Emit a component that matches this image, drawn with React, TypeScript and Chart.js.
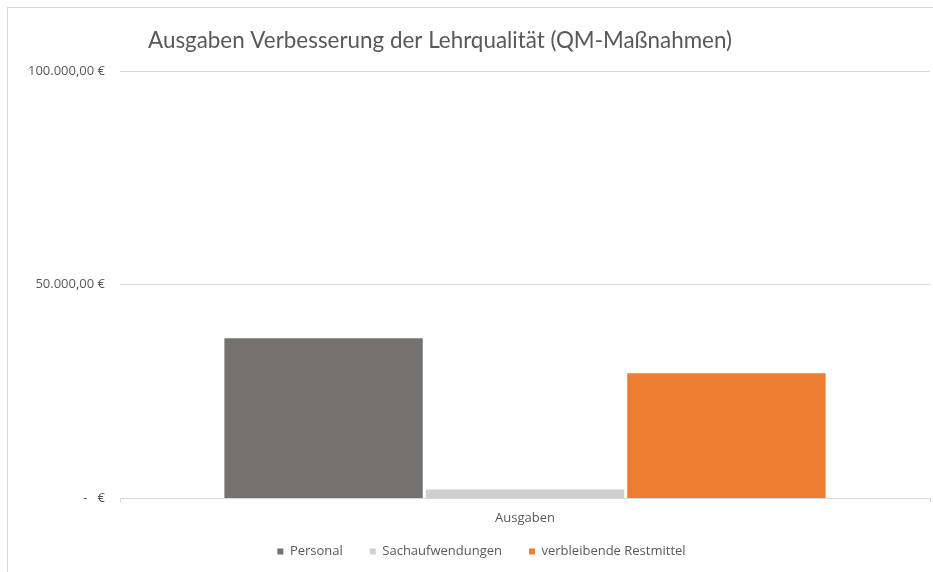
import React, { useEffect, useRef } from "react";
import { Chart, registerables } from "chart.js";

Chart.register(...registerables);

const categories = ["Ausgaben"];
const seriesNames = ["Personal", "Sachaufwendungen", "verbleibende Restmittel"];
const personal = [37500];
const sachaufwendungen = [2100];
const restmittel = [29300];
const seriesColors = ["#767171", "#d0cece", "#ed7d31"];
const titleText = "Ausgaben Verbesserung der Lehrqualität (QM-Maßnahmen)";
const yTicks = [0, 50000, 100000];

const fmt = (v: number) =>
  v === 0
    ? "-   €"
    : v.toLocaleString("de-DE", { minimumFractionDigits: 2, maximumFractionDigits: 2 }) + " €";

const LEGEND_SHIFT = 16;
const LEGEND_X_SHIFT = 9;

export default function App() {
  const ref = useRef<HTMLCanvasElement>(null);
  useEffect(() => {
    if (!ref.current) return;
    const titlePlugin = {
      id: "customTitle",
      afterDraw(chart: any) {
        const ctx = chart.ctx;
        ctx.save();
        ctx.font = "22.4px Lato";
        ctx.fillStyle = "#595959";
        ctx.textAlign = "center";
        ctx.textBaseline = "middle";
        ctx.fillText(titleText, 440, 41);
        ctx.restore();
      },
    };
    const legendPatch = {
      id: "legendPatch",
      beforeLayout(chart: any) {
        const lg = chart.legend;
        if (lg && !lg._patched) {
          const orig = lg.fit.bind(lg);
          lg.fit = function () {
            orig();
            this.height -= LEGEND_SHIFT;
          };
          lg._patched = true;
        }
      },
      afterLayout(chart: any) {
        const lg = chart.legend;
        if (lg) {
          lg.top -= LEGEND_SHIFT;
          lg.height += LEGEND_SHIFT;
          lg.left += LEGEND_X_SHIFT;
          lg.right += LEGEND_X_SHIFT;
        }
      },
    };
    const values = [personal, sachaufwendungen, restmittel];
    const chart = new Chart(ref.current, {
      type: "bar",
      data: {
        labels: categories,
        datasets: seriesNames.map((n, i) => ({
          label: n,
          data: values[i],
          backgroundColor: seriesColors[i],
          borderWidth: 0,
          categoryPercentage: 0.746,
          barPercentage: 0.985,
        })),
      },
      options: {
        animation: false,
        responsive: false,
        layout: { padding: { left: 15, right: 3, top: 71, bottom: 4 } },
        plugins: {
          title: { display: false },
          tooltip: { enabled: false },
          legend: {
            position: "bottom",
            labels: {
              boxWidth: 6,
              boxHeight: 6,
              color: "#595959",
              font: { family: "Open Sans", size: 13 },
              padding: 27,
            },
          },
        },
        scales: {
          x: {
            grid: {
              display: true,
              drawOnChartArea: false,
              drawTicks: true,
              tickLength: 4,
              color: "#d9d9d9",
            },
            border: { display: true, color: "#d9d9d9" },
            ticks: { color: "#595959", font: { family: "Open Sans", size: 13 }, padding: 8 },
          },
          y: {
            min: 0,
            max: 100000,
            afterBuildTicks(scale: any) {
              scale.ticks = yTicks.map((v) => ({ value: v }));
            },
            afterFit(scale: any) {
              scale.width = 105;
            },
            grid: { color: "#d9d9d9", drawTicks: false },
            border: { display: false },
            ticks: {
              color: "#595959",
              font: { family: "Open Sans", size: 13 },
              padding: 15,
              callback: (v: any) => fmt(Number(v)),
            },
          },
        },
      },
      plugins: [titlePlugin, legendPatch],
    });
    return () => chart.destroy();
  }, []);
  return (
    <div style={{ position: "fixed", left: 0, top: 0, width: 933, height: 572, background: "#fff", overflow: "hidden" }}>
      <div
        style={{
          position: "absolute",
          left: 7,
          top: 7,
          width: 940,
          height: 600,
          border: "1px solid #d9d9d9",
        }}
      />
      <canvas ref={ref} width={933} height={572} style={{ position: "absolute", left: 0, top: 0, display: "block" }} />
    </div>
  );
}
